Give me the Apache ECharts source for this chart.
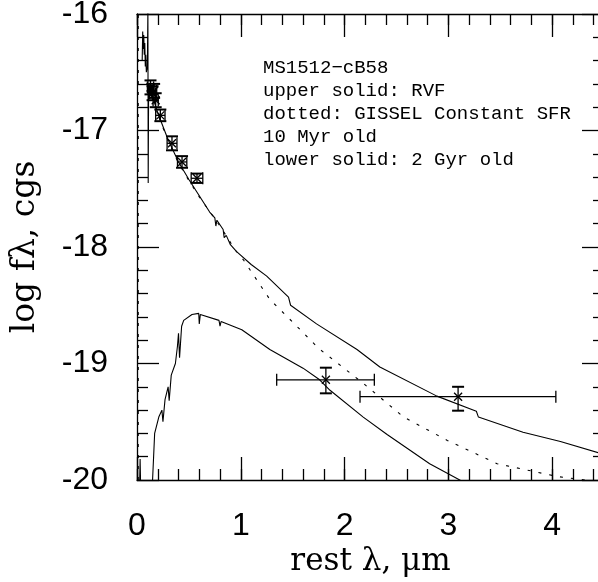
<!DOCTYPE html>
<html>
<head>
<meta charset="utf-8">
<script src="https://cdn.jsdelivr.net/npm/echarts@6/dist/echarts.min.js"></script>
<style>
  html, body { margin: 0; padding: 0; background: #fff; }
  #chart { width: 598px; height: 582px; }
</style>
</head>
<body>
<div id="chart"></div>
<script>
// upper solid: RVF spectrum (x in micron, y = log f_lambda)
const rvf = [
  [0.05, -16.4], [0.055, -16.15], [0.06, -16.3], [0.065, -16.18], [0.07, -16.35],
  [0.075, -16.25], [0.08, -16.45], [0.085, -16.35], [0.09, -16.5], [0.1, -16.45],
  [0.105, -15.95], [0.108, -17.45], [0.112, -16.6], [0.14, -16.68], [0.2, -16.85],
  [0.3, -17.08], [0.4, -17.27], [0.5, -17.42], [0.6, -17.56], [0.7, -17.7],
  [0.75, -17.75], [0.76, -17.82], [0.77, -17.77], [0.83, -17.85], [0.84, -17.92],
  [0.86, -17.9], [0.9, -17.98], [0.96, -18.04], [1.1, -18.15], [1.25, -18.25],
  [1.46, -18.43], [1.48, -18.5], [1.73, -18.66], [2.12, -18.88], [2.34, -19.03],
  [2.89, -19.28], [3.27, -19.41], [3.29, -19.46], [3.72, -19.59], [4.08, -19.67],
  [4.5, -19.78]
];

// dotted: GISSEL constant SFR, 10 Myr
const gissel = [
  [0.012, -20.0], [0.012, -16.0], '-',
  [0.11, -16.62], [0.2, -16.86], [0.3, -17.09], [0.4, -17.28], [0.5, -17.43],
  [0.6, -17.57], [0.8, -17.82], [0.95, -18.03], [1.025, -18.11], [1.28, -18.45],
  [1.54, -18.68], [1.75, -18.87], [2.18, -19.17], [2.57, -19.46], [2.99, -19.66],
  [3.47, -19.86], [4.05, -19.97], [4.5, -20.02]
];

// lower solid: 2 Gyr old
const oldPop = [
  [0.025, -20.05], [0.03, -19.82], [0.035, -20.05], '-',
  [0.15, -20.0], [0.17, -19.6], [0.21, -19.46], [0.24, -19.4], [0.25, -19.5],
  [0.27, -19.31], [0.3, -19.2], [0.31, -19.32], [0.33, -19.1], [0.37, -19.0],
  [0.39, -18.85], [0.4, -18.74], [0.41, -18.95], [0.43, -18.68], [0.45, -18.63],
  [0.53, -18.58], [0.595, -18.57], [0.6, -18.66], [0.61, -18.58], [0.79, -18.63],
  [0.8, -18.68], [0.81, -18.64], [1.01, -18.71], [1.28, -18.88], [1.6, -19.04],
  [1.76, -19.14], [1.86, -19.23], [2.18, -19.46], [2.41, -19.61], [2.82, -19.86],
  [3.11, -20.0], [3.2, -20.05]
];

// photometry with error bars
const obsX  = [0.13, 0.15, 0.165, 0.18, 0.225, 0.337, 0.434, 0.578, 1.82, 3.094];
const obsY  = [-16.63, -16.68, -16.66, -16.74, -16.87, -17.11, -17.27, -17.41, -19.14, -19.285];
const obsXlo = [0.1, 0.12, 0.14, 0.155, 0.18, 0.29, 0.39, 0.522, 1.346, 2.149];
const obsXhi = [0.16, 0.18, 0.19, 0.205, 0.27, 0.385, 0.48, 0.634, 2.287, 4.036];
const obsYlo = [-16.69, -16.74, -16.72, -16.8, -16.92, -17.17, -17.32, -17.45, -19.256, -19.405];
const obsYhi = [-16.57, -16.62, -16.6, -16.68, -16.82, -17.05, -17.22, -17.37, -19.036, -19.2];

const notes = [
  'MS1512\u2212cB58',
  'upper solid: RVF',
  'dotted: GISSEL Constant SFR',
  '10 Myr old',
  'lower solid: 2 Gyr old'
];

const obsData = obsX.map((x, i) => [x, obsY[i], obsXlo[i], obsXhi[i], obsYlo[i], obsYhi[i]]);

const chart = echarts.init(document.getElementById('chart'));

const tickFont = { color: '#000', fontFamily: 'Liberation Sans', fontSize: 32 };
const black = { color: '#000', width: 1.3 };

// x needs two axes per side: long ticks every 1, short ticks every 0.2 (max 4.5 isn't a multiple of 1)
function xAx(position, interval, major) {
  return {
    type: 'value', position, min: 0, max: 4.5, interval,
    axisLine: { show: major, onZero: false, lineStyle: black },
    axisTick: { show: true, inside: true, length: major ? 23 : 11, lineStyle: black },
    axisLabel: major && position === 'bottom'
      ? Object.assign({ margin: 30, formatter: v => (v % 1 === 0 ? String(v) : '') }, tickFont)
      : { show: false },
    splitLine: { show: false }
  };
}

function yAx(position) {
  return {
    type: 'value', position, min: -20, max: -16, interval: 1,
    axisLine: { show: true, onZero: false, lineStyle: black },
    axisTick: { show: true, inside: true, length: 22, lineStyle: black },
    minorTick: { show: true, splitNumber: 5, length: 11, lineStyle: black },
    axisLabel: position === 'left' ? Object.assign({ margin: 29 }, tickFont) : { show: false },
    splitLine: { show: false }
  };
}

function errorBars(params, api) {
  const c = api.coord([api.value(0), api.value(1)]);
  const xl = api.coord([api.value(2), api.value(1)]);
  const xh = api.coord([api.value(3), api.value(1)]);
  const yl = api.coord([api.value(0), api.value(4)]);
  const yh = api.coord([api.value(0), api.value(5)]);
  const st = { stroke: '#000', lineWidth: 1.3, fill: null };
  const cap = 6, m = 4;
  const line = (x1, y1, x2, y2, w) => ({
    type: 'line', shape: { x1, y1, x2, y2 }, style: Object.assign({}, st, w ? { lineWidth: w } : {})
  });
  return {
    type: 'group',
    children: [
      line(xl[0], c[1], xh[0], c[1]),
      line(xl[0], c[1] - cap, xl[0], c[1] + cap),
      line(xh[0], c[1] - cap, xh[0], c[1] + cap),
      line(c[0], yl[1], c[0], yh[1]),
      line(c[0] - cap, yl[1], c[0] + cap, yl[1], 2),
      line(c[0] - cap, yh[1], c[0] + cap, yh[1], 2),
      line(c[0] - m, c[1] - m, c[0] + m, c[1] + m),
      line(c[0] - m, c[1] + m, c[0] + m, c[1] - m)
    ]
  };
}

const option = {
  animation: false,
  backgroundColor: '#fff',
  grid: { left: 137, right: -6, top: 14, bottom: 102, containLabel: false, outerBoundsMode: 'none' },
  xAxis: [
    Object.assign(xAx('bottom', 1, true), {
      name: 'rest \u03bb, \u03bcm', nameLocation: 'middle', nameGap: 64,
      nameTextStyle: { color: '#000', fontFamily: 'DejaVu Serif', fontSize: 31 }
    }),
    xAx('bottom', 0.2, false),
    xAx('top', 1, true),
    xAx('top', 0.2, false)
  ],
  yAxis: [
    Object.assign(yAx('left'), {
      name: 'log f\u03bb, cgs', nameLocation: 'middle', nameGap: 95, nameRotate: 90,
      nameTextStyle: { color: '#000', fontFamily: 'DejaVu Serif', fontSize: 33 }
    }),
    yAx('right')
  ],
  graphic: [{
    type: 'text', left: 263, top: 56,
    style: {
      text: notes.join('\n'), fill: '#000',
      font: '19px "Liberation Mono"', lineHeight: 23
    }
  }],
  series: [
    {
      name: 'upper solid', type: 'line', data: rvf, symbol: 'none', clip: true,
      lineStyle: { color: '#000', width: 1.1 }
    },
    {
      name: 'dotted', type: 'line', data: gissel, symbol: 'none', clip: true,
      lineStyle: { color: '#000', width: 1.1, type: [3, 8] }
    },
    {
      name: 'lower solid', type: 'line', data: oldPop, symbol: 'none', clip: true,
      lineStyle: { color: '#000', width: 1.1 }
    },
    {
      name: 'photometry', type: 'custom', data: obsData, clip: true,
      renderItem: errorBars,
      encode: { x: 0, y: 1 }
    }
  ]
};

chart.setOption(option);
</script>
</body>
</html>
